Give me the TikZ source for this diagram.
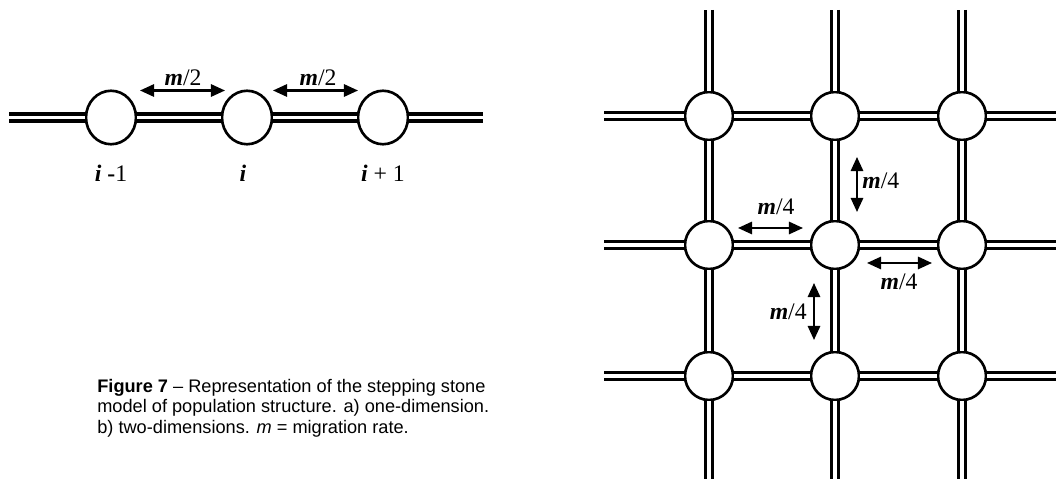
\documentclass[tikz,border=0pt]{standalone}
\usepackage{fontspec}
\setmainfont{Liberation Serif}
\newfontfamily\legfont{Liberation Sans}
\usetikzlibrary{arrows.meta,shapes.geometric}
\newcommand{\pierre}[2]{\node[stone] (#1) at (#2) {}}
\newcommand{\rail}[2]{\draw[voie] (#1) -- (#2)}
\newcommand{\fleche}[3]{\coordinate (#1s) at (#2);
	\coordinate (#1e) at (#3);
	\draw[flux] (#1s) -- (#1e)}
\newcommand{\mig}[1]{\textbf{\textit{m}}/#1}
\tikzset{
	stone/.style={circle,draw,line width=1.5pt,fill=white,minimum size=0.96cm,inner sep=0pt},
	oval/.style={ellipse,minimum width=1cm,minimum height=1.07cm},
	voie/.style={double,double distance=2.2pt,line width=1.8pt},
	flux/.style={{Triangle[length=8pt,width=7pt]}-{Triangle[length=8pt,width=7pt]},line width=1.2pt},
	lab/.style={font=\fontsize{13.5pt}{16pt}\selectfont,inner sep=0pt,anchor=base},
	leg/.style={font=\legfont\fontsize{10.35pt}{12pt}\selectfont,anchor=base west,inner sep=0pt}
}

\begin{document}
\begin{tikzpicture}[x=0.02cm,y=-0.02cm]
	\useasboundingbox (0,0) rectangle (1056,479);
	% a) one dimension
	\node[stone,oval] (a1) at (111,117.5) {};
	\node[stone,oval] (a2) at (247,117.5) {};
	\node[stone,oval] (a3) at (383,117.5) {};
	\coordinate (a0) at (9,117.5);
	\coordinate (a4) at (483,117.5);
	\rail{a0}{a1};
	\rail{a1}{a2};
	\rail{a2}{a3};
	\rail{a3}{a4};
	\fleche{p1}{140,90.5}{225,90.5};
	\fleche{p2}{273,90.5}{358,90.5};
	\node[lab] (m1) at (183,86) {\mig{2}};
	\node[lab] (m2) at (318,86) {\mig{2}};
	\node[lab] (i1) at (111,182) {\textbf{\textit{i}} \textbf{-}1};
	\node[lab] (i2) at (243,182) {\textbf{\textit{i}}};
	\node[lab] (i3) at (383,182) {\textbf{\textit{i}} + 1};
	% b) two dimensions
	\foreach \c/\x in {1/709,2/835,3/962}
		\foreach \r/\y in {1/116,2/245,3/376}
			\pierre{b\r\c}{\x,\y};
	\foreach \r/\y in {1/116,2/245,3/376}{
		\coordinate (g\r) at (604,\y);
		\coordinate (d\r) at (1056,\y);
		\rail{g\r}{b\r1};
		\rail{b\r1}{b\r2};
		\rail{b\r2}{b\r3};
		\rail{b\r3}{d\r};
	}
	\foreach \c/\x in {1/709,2/835,3/962}{
		\coordinate (h\c) at (\x,10);
		\coordinate (l\c) at (\x,479);
		\rail{h\c}{b1\c};
		\rail{b1\c}{b2\c};
		\rail{b2\c}{b3\c};
		\rail{b3\c}{l\c};
	}
	\fleche{q1}{857,157}{857,212};
	\node[lab,anchor=base west] (n1) at (862,189) {\mig{4}};
	\fleche{q2}{738,228}{803,228};
	\node[lab] (n2) at (776,215) {\mig{4}};
	\fleche{q3}{867,263}{932,263};
	\node[lab] (n3) at (899,290) {\mig{4}};
	\fleche{q4}{814,283}{814,340};
	\node[lab,anchor=base east] (n4) at (807,320) {\mig{4}};
	% legend
	\node[leg] (c1) at (97,393) {\textbf{Figure 7} – Representation of the stepping stone};
	\node[leg] (c2) at (97,413) {model of population structure. a) one-dimension.};
	\node[leg] (c3) at (97,434) {b) two-dimensions. \textit{m} = migration rate.};
\end{tikzpicture}
\end{document}
